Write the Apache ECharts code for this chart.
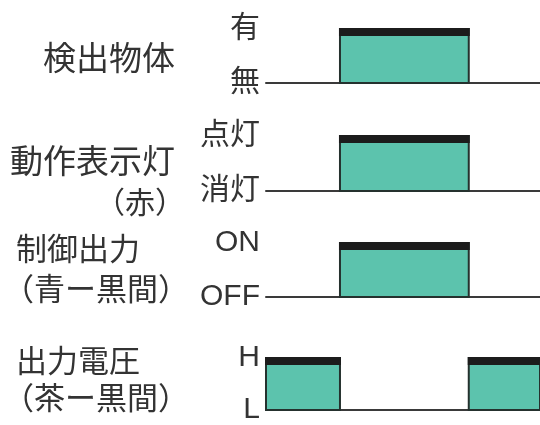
<!DOCTYPE html>
<html>
<head>
<meta charset="utf-8">
<script src="https://cdn.jsdelivr.net/npm/echarts@6/dist/echarts.min.js"></script>
<style>
  html, body { margin: 0; padding: 0; background: #fff; }
  #main { width: 540px; height: 425px; }
</style>
</head>
<body>
<div id="main"></div>
<script>
// 各行の名前
const rows = ['検出物体', '動作表示灯', '制御出力', '出力電圧'];
const subRows = ['', '（赤）', '（青ー黒間）', '（茶ー黒間）'];
// 上下のレベル名
const highLabels = ['有', '点灯', 'ON', 'H'];
const lowLabels = ['無', '消灯', 'OFF', 'L'];
// ONになっている区間 [開始, 終了]（時間 0〜100）
const pulses = [
    [[27, 74]],
    [[27, 74]],
    [[27, 74]],
    [[0, 27], [74, 100]]
];

const textColor = '#333';
const cjk = '"Noto Sans CJK JP", sans-serif';
const levelFont = '"Liberation Sans", "Noto Sans CJK JP", sans-serif';

// 各行のグリッド位置
const gridTops = [29, 136, 243, 358];
const gridHeights = [54, 55, 54, 54];

let myChart = echarts.init(document.getElementById('main'), null, { renderer: 'canvas' });

const grids = [], xAxes = [], yAxes = [], series = [];
for (let i = 0; i < rows.length; i++) {
    grids.push({ left: 266, right: 0, top: gridTops[i], height: gridHeights[i] });
    xAxes.push({
        gridIndex: i, type: 'value', min: 0, max: 100,
        axisLine: { show: true, lineStyle: { color: '#3a3a3a', width: 2 } },
        axisTick: { show: false }, axisLabel: { show: false }, splitLine: { show: false }
    });
    yAxes.push({
        gridIndex: i, type: 'value', min: 0, max: 1, interval: 1,
        axisLine: { show: false }, axisTick: { show: false }, splitLine: { show: false },
        axisLabel: {
            margin: 6, fontSize: 30, color: textColor, fontFamily: levelFont,
            formatter: function (v) { return v === 1 ? highLabels[i] : lowLabels[i]; }
        }
    });
    series.push({
        type: 'custom',
        xAxisIndex: i, yAxisIndex: i,
        data: pulses[i],
        encode: { x: [0, 1] },
        renderItem: function (params, api) {
            const s = api.coord([api.value(0), 1]);
            const e = api.coord([api.value(1), 0]);
            const w = e[0] - s[0], h = e[1] - s[1];
            return {
                type: 'group',
                children: [
                    { type: 'rect', shape: { x: s[0], y: s[1], width: w, height: h },
                      style: { fill: '#5cc3ad', stroke: '#25312e', lineWidth: 2 } },
                    // 上の黒い帯
                    { type: 'rect', shape: { x: s[0] - 1, y: s[1] - 1, width: w + 2, height: 8 },
                      style: { fill: '#1c1c1c' } }
                ]
            };
        }
    });
}

// 左側の項目名
const graphics = [];
const labelPos = [
    { x: 175, y: 57, align: 'right', size: 33 },
    { x: 175, y: 160, align: 'right', size: 33 },
    { x: 16, y: 248, align: 'left', size: 31 },
    { x: 16, y: 360, align: 'left', size: 31 }
];
const subPos = [
    null,
    { x: 185, y: 202, align: 'right', size: 30 },
    { x: 3, y: 288, align: 'left', size: 31 },
    { x: 3, y: 397, align: 'left', size: 31 }
];
for (let i = 0; i < rows.length; i++) {
    const p = labelPos[i];
    graphics.push({
        type: 'text', x: p.x, y: p.y,
        style: { text: rows[i], align: p.align, verticalAlign: 'middle',
                 font: p.size + 'px ' + cjk, fill: textColor }
    });
    if (subRows[i]) {
        const q = subPos[i];
        graphics.push({
            type: 'text', x: q.x, y: q.y,
            style: { text: subRows[i], align: q.align, verticalAlign: 'middle',
                     font: q.size + 'px ' + cjk, fill: textColor }
        });
    }
}

option = {
    animation: false,
    grid: grids,
    xAxis: xAxes,
    yAxis: yAxes,
    series: series,
    graphic: graphics
};
myChart.setOption(option);
</script>
</body>
</html>
